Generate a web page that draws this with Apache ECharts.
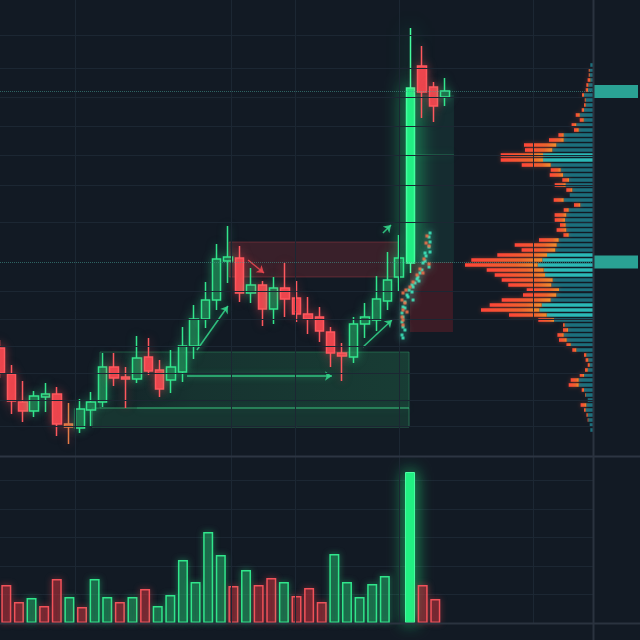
<!DOCTYPE html>
<html>
<head>
<meta charset="utf-8">
<script src="https://cdn.jsdelivr.net/npm/echarts@6/dist/echarts.min.js"></script>
<style>
  html, body { margin: 0; padding: 0; background: #121a24; }
  #chart { width: 640px; height: 640px; }
</style>
</head>
<body>
<div id="chart"></div>
<script>
// ---- candles (price units) ----
const candleOpen  = [33.0, 26.5, 19.5, 17.25, 20.75, 21.5, 14.0, 13.0, 17.5, 19.5, 28.25, 25.75, 25.25, 30.75, 27.5, 25.0, 27.0, 33.5, 40.25, 45.0, 54.75, 55.5, 46.75, 48.75, 42.75, 48.0, 45.5, 41.5, 40.75, 37.0, 31.75, 30.75, 39.0, 40.0, 44.75, 50.75, 54.25, 103.5, 98.25, 95.75];
const candleClose = [26.75, 19.75, 17.25, 21.0, 21.5, 14.0, 13.25, 17.75, 19.5, 28.25, 25.5, 25.25, 30.5, 27.25, 22.75, 28.25, 33.5, 40.25, 45.0, 55.25, 55.75, 46.75, 48.75, 42.75, 48.0, 45.25, 41.5, 40.25, 37.25, 31.75, 31.0, 39.0, 40.75, 45.25, 50.0, 55.5, 98.0, 97.0, 93.5, 97.25];
const candleLow   = [25.5, 16.5, 14.5, 15.75, 17.0, 11.0, 9.0, 11.75, 13.25, 18.25, 23.5, 18.0, 24.25, 26.25, 20.75, 21.75, 24.5, 30.25, 38.0, 42.5, 49.25, 44.5, 44.25, 38.5, 39.0, 40.75, 39.5, 36.5, 34.5, 28.25, 24.75, 29.25, 35.5, 37.25, 42.5, 47.0, 51.75, 90.5, 89.5, 93.5];
const candleHigh  = [35.0, 28.75, 24.75, 22.25, 24.25, 23.25, 19.25, 20.25, 22.0, 31.75, 31.75, 28.25, 36.0, 35.5, 30.0, 32.5, 38.25, 43.75, 49.5, 59.0, 63.5, 58.5, 53.0, 49.75, 50.75, 54.25, 49.75, 45.75, 43.25, 38.25, 34.25, 40.75, 44.25, 51.0, 57.0, 61.25, 113.0, 108.5, 99.5, 100.5];

// ---- volume ----
const volumes    = [38, 21, 25, 17, 44, 26, 16, 44, 26, 21, 26, 34, 17, 28, 63, 41, 91, 68, 37, 53, 38, 45, 41, 27, 35, 21, 69, 41, 26, 39, 47, '-', 151, 38, 24];
const volumeSide = ['d','d','u','d','d','u','d','u','u','d','u','d','u','u','u','u','u','u','d','u','d','d','u','d','d','d','u','u','u','u','u','-','u','d','d'];

// ---- volume profile (top row first) ----
const buyVol  = [2.7,3.3,3.3,2.7,4.7,5,9,7.3,7.3,9, 13.3,9.3,16.7,14.3,29.3,29.3,36.7,40.7,50,50, 42.3,32.3,30,24,27.3,20.7,23.3,29.3,12.7,24.3, 26.7,28,27.3,26.7,24.3,34.3,36.3,37.7,46,50.7, 55.3,49.3,48,40.3,41.7,34,36.7,42.3,51.3,53.7, 46.3,39,28.3,25,29.3,26.3,22.3,16.7,6.7,4.7, 3.3,5.3,9,14.3,14.3,9,7.3,5.3,6.7,7.3, 5.3,4.7,3.3,2.7];
const sellVol = [0,1,1,2.7,2,2.3,2,1,1.7,2.3, 4,4,4.7,4.7,5.3,14.7,32.3,27.3,42.3,42.3, 29,10,13.3,6.7,11,6,0,10,6.3,5, 11.7,10.3,5.7,9.7,5.3,19.7,42,33.7,49.7,71, 72.7,57,50.3,51,43,32.3,33.3,49,52,58.3, 37.7,15.7,1.7,5,6.3,7.7,4.3,4,2.3,2.7, 2,2.7,4.3,8,10,2.3,0.7,0,5.7,1.7, 1.3,0.7,0,0];

// ---- levels / zones / annotations (time slot, price) ----
const priceLevels = [111.25, 103, 95.75, 88.5, 81.25, 73.75, 64.5, 47.25, 40.25, 33.5, 26.75, 20, 13.5];
const timeLevels = [6.58, 20.26, 25.87, 34.99, 46.74];
const tagLevels = [97.1, 54.5];

const demandZone = [[8.77, 32], [35.87, 18]];
const demandBase = [[8.07, 18], [35.87, 13.25]];
const supplyZone = [[20.08, 59.5], [34.99, 50.75]];
const gapZoneRed = [[35.95, 54.5], [39.72, 37]];
const gapZoneTeal = [[36.13, 96.25], [39.81, 54.25]];

const arrowsUp = [
  [[17.27, 32.5], [19.99, 43.5]],
  [[31.83, 33.25], [34.37, 40.0]],
  [[33.58, 61.75], [34.29, 63.75]],
  [[16.4, 26.0], [29.11, 26.0]]
];
const arrowsDown = [
  [[21.75, 55.0], [23.15, 51.75]]
];
const guideLines = [
  [[12.01, 18.0], [35.87, 18.0]],
  [[36.13, 81.25], [39.81, 81.25]]
];

const dotsTeal = [[37.71,61.75],[37.62,60.75],[37.71,59.5],[37.62,58.25],[37.71,57.0],[37.27,56.75],[37.36,56.0],[37.27,54.75],[37.09,54.25],[37.62,53.25],[37.0,52.5],[36.83,51.75],[36.65,50.75],[36.57,50.25],[36.74,49.75],[36.39,49.25],[36.13,48.75],[36.22,48.25],[35.87,47.5],[36.13,47.0],[35.69,46.25],[35.78,45.75],[36.22,45.0],[35.51,44.5],[35.34,43.25],[35.51,43.0],[35.25,41.75],[35.34,40.75],[35.25,39.5],[35.34,38.25],[35.51,37.5],[35.25,36.25],[35.34,35.5]];
const dotsOrange = [[37.44,61.0],[37.36,59.25],[37.62,58.5],[37.18,55.25],[37.62,54.0],[36.83,52.75],[37.09,51.75],[36.57,51.25],[36.22,49.5],[35.95,48.25],[35.6,47.5],[35.34,46.75],[35.25,45.0],[35.51,44.25],[35.34,42.5],[35.69,42.0],[35.25,40.75],[35.34,40.0],[35.34,38.75]];

const slots = Array.from({ length: 53 }, (_, i) => String(i));
const volSlots = Array.from({ length: 47 }, (_, i) => String(i));
const rows = buyVol.map((_, i) => String(i));

const GRID_LINE = '#1c2733';

const candleData = candleOpen.map((o, i) => {
  const c = candleClose[i];
  const up = c >= o;
  const st = { shadowBlur: 8, shadowColor: up ? 'rgba(46,230,140,0.5)' : 'rgba(240,70,80,0.5)' };
  if (Math.abs(c - o) > 20) {
    Object.assign(st, { color: '#22ef84', borderColor: '#45ff9f', shadowBlur: 20, shadowColor: 'rgba(34,240,130,0.85)' });
  }
  if (i === 6) Object.assign(st, { color0: '#d0643a', borderColor0: '#e67c48' });
  return { value: [o, c, candleLow[i], candleHigh[i]], itemStyle: st };
});

const volData = volumes.map((v, i) => {
  if (v === '-') return '-';
  if (v > 120) {
    return { value: v, itemStyle: { color: '#22f083', borderColor: '#4dffa4', borderWidth: 1, shadowBlur: 16, shadowColor: 'rgba(34,240,130,0.8)' } };
  }
  const up = volumeSide[i] === 'u';
  return {
    value: v,
    itemStyle: up
      ? { color: 'rgba(32,140,86,0.45)', borderColor: '#31e68b', borderWidth: 1.5, shadowBlur: 6, shadowColor: 'rgba(46,230,140,0.5)' }
      : { color: 'rgba(150,40,50,0.5)', borderColor: '#f2525a', borderWidth: 1.5, shadowBlur: 6, shadowColor: 'rgba(240,70,80,0.5)' }
  };
});

const buyData = buyVol.map(v => ({
  value: v,
  itemStyle: { color: v > 45 ? '#2bb9b6' : '#1c6f7c' }
}));

const sellGradient = new echarts.graphic.LinearGradient(0, 0, 1, 0, [
  { offset: 0, color: '#ff4538' },
  { offset: 0.7, color: '#ee652d' },
  { offset: 1, color: '#f0902e' }
]);

function zone(pair, style) {
  return [
    { xAxis: pair[0][0], yAxis: pair[0][1], itemStyle: style },
    { xAxis: pair[1][0], yAxis: pair[1][1] }
  ];
}

const chart = echarts.init(document.getElementById('chart'));

const option = {
  backgroundColor: '#121a24',
  animation: false,
  grid: [
    { left: 0, top: 0, width: 593, height: 456 },
    { left: 0, top: 456, width: 593, height: 167 },
    { left: 460, top: 62.5, width: 133, height: 370 },
    { left: 0, top: 0, width: 593, height: 623 }
  ],
  xAxis: [
    { type: 'category', gridIndex: 0, data: slots, boundaryGap: false, show: false },
    { type: 'value', gridIndex: 0, min: 0, max: 52, show: false },
    { type: 'category', gridIndex: 1, data: volSlots, show: false },
    { type: 'value', gridIndex: 2, min: 0, max: 133, inverse: true, show: false },
    { type: 'value', gridIndex: 3, min: 0, max: 52, show: false }
  ],
  yAxis: [
    { type: 'value', gridIndex: 0, min: 6, max: 120, show: false },
    {
      type: 'value', gridIndex: 1, min: 0, max: 167, interval: 28.5,
      axisLabel: { show: false }, axisTick: { show: false }, axisLine: { show: false },
      splitLine: { lineStyle: { color: GRID_LINE } }
    },
    { type: 'category', gridIndex: 2, data: rows, inverse: true, show: false },
    { type: 'value', gridIndex: 3, min: 0, max: 1, show: false }
  ],
  series: [
    {
      name: 'timeGrid', type: 'line', xAxisIndex: 4, yAxisIndex: 3,
      data: [[0, 0]], showSymbol: false, silent: true, z: 0,
      markLine: {
        silent: true, symbol: 'none', animation: false,
        label: { show: false },
        lineStyle: { color: GRID_LINE, width: 1, type: 'solid' },
        data: timeLevels.map(v => ({ xAxis: v }))
      }
    },
    {
      name: 'priceGrid', type: 'line', xAxisIndex: 1, yAxisIndex: 0,
      data: [[0, 6]], showSymbol: false, silent: true, z: 0,
      markLine: {
        silent: true, symbol: 'none', animation: false,
        label: { show: false },
        lineStyle: { color: GRID_LINE, width: 1, type: 'solid' },
        data: priceLevels.map(v => ({ yAxis: v }))
      }
    },
    {
      name: 'zones', type: 'line', xAxisIndex: 1, yAxisIndex: 0,
      data: [[0, 6]], showSymbol: false, silent: true, z: 1,
      markArea: {
        silent: true, animation: false,
        data: [
          zone(demandZone, {
            color: new echarts.graphic.LinearGradient(0, 0, 1, 0, [
              { offset: 0, color: 'rgba(40,150,95,0.06)' },
              { offset: 0.3, color: 'rgba(40,150,95,0.2)' },
              { offset: 1, color: 'rgba(40,150,95,0.28)' }
            ]),
            borderColor: 'rgba(60,190,120,0.35)', borderWidth: 1
          }),
          zone(demandBase, { color: 'rgba(40,150,95,0.22)', borderColor: 'rgba(70,200,130,0.45)', borderWidth: 1 }),
          zone(supplyZone, { color: 'rgba(150,45,55,0.3)', borderColor: 'rgba(200,70,80,0.35)', borderWidth: 1 }),
          zone(gapZoneRed, { color: 'rgba(110,32,42,0.45)' }),
          zone(gapZoneTeal, { color: 'rgba(30,110,90,0.22)' })
        ]
      }
    },
    {
      name: 'levels', type: 'line', xAxisIndex: 1, yAxisIndex: 0,
      data: [[0, 6]], showSymbol: false, silent: true, z: 2,
      markLine: {
        silent: true, symbol: 'none', animation: false,
        lineStyle: { color: 'rgba(70,160,150,0.55)', width: 1, type: 'dotted' },
        label: {
          show: true, position: 'end', distance: 1, padding: 0,
          formatter: '{a| }',
          rich: { a: { width: 44, height: 13, backgroundColor: '#2aa294' } }
        },
        data: tagLevels.map(v => ({ yAxis: v }))
      }
    },
    {
      name: 'price', type: 'candlestick', xAxisIndex: 0, yAxisIndex: 0,
      barWidth: 9, z: 3,
      itemStyle: {
        color: 'rgba(30,125,78,0.65)', color0: '#ec464e',
        borderColor: '#33e58c', borderColor0: '#ff585e', borderWidth: 1.5
      },
      data: candleData
    },
    {
      name: 'guides', type: 'lines', coordinateSystem: 'cartesian2d', xAxisIndex: 1, yAxisIndex: 0,
      symbol: 'none', silent: true, z: 2,
      lineStyle: { color: 'rgba(60,200,130,0.6)', width: 1.5, shadowBlur: 8, shadowColor: 'rgba(60,220,140,0.7)' },
      data: guideLines.map(c => ({ coords: c }))
    },
    {
      name: 'arrowsUp', type: 'lines', coordinateSystem: 'cartesian2d', xAxisIndex: 1, yAxisIndex: 0,
      symbol: ['none', 'arrow'], symbolSize: 7, silent: true, z: 4,
      lineStyle: { color: '#34d88c', width: 1.5, opacity: 0.85, shadowBlur: 6, shadowColor: 'rgba(52,216,140,0.7)' },
      data: arrowsUp.map(c => ({ coords: c }))
    },
    {
      name: 'arrowsDown', type: 'lines', coordinateSystem: 'cartesian2d', xAxisIndex: 1, yAxisIndex: 0,
      symbol: ['none', 'arrow'], symbolSize: 7, silent: true, z: 4,
      lineStyle: { color: '#e8464e', width: 1.5, opacity: 0.9, shadowBlur: 6, shadowColor: 'rgba(232,70,78,0.7)' },
      data: arrowsDown.map(c => ({ coords: c }))
    },
    {
      name: 'flowBuy', type: 'scatter', xAxisIndex: 1, yAxisIndex: 0,
      symbol: 'rect', symbolSize: 3, z: 5, silent: true,
      itemStyle: { color: '#3ff2c6', shadowBlur: 6, shadowColor: 'rgba(63,242,198,0.9)' },
      data: dotsTeal
    },
    {
      name: 'flowSell', type: 'scatter', xAxisIndex: 1, yAxisIndex: 0,
      symbol: 'rect', symbolSize: 3, z: 5, silent: true,
      itemStyle: { color: '#f2704a', shadowBlur: 3, shadowColor: 'rgba(242,112,74,0.6)' },
      data: dotsOrange
    },
    {
      name: 'volume', type: 'bar', xAxisIndex: 2, yAxisIndex: 1,
      barWidth: 10, z: 3,
      data: volData
    },
    {
      name: 'profileBuy', type: 'bar', xAxisIndex: 3, yAxisIndex: 2,
      stack: 'vp', barWidth: 3.6, z: 3,
      data: buyData
    },
    {
      name: 'profileSell', type: 'bar', xAxisIndex: 3, yAxisIndex: 2,
      stack: 'vp', barWidth: 3.6, z: 3,
      itemStyle: { color: sellGradient, shadowBlur: 4, shadowColor: 'rgba(255,80,50,0.4)' },
      data: sellVol
    }
  ],
  graphic: [
    { type: 'line', silent: true, z: 10, shape: { x1: 0, y1: 456.5, x2: 640, y2: 456.5 }, style: { stroke: '#2c3542', lineWidth: 2 } },
    { type: 'line', silent: true, z: 10, shape: { x1: 0, y1: 623.5, x2: 640, y2: 623.5 }, style: { stroke: '#2a333f', lineWidth: 2 } },
    { type: 'line', silent: true, z: 10, shape: { x1: 593.5, y1: 0, x2: 593.5, y2: 640 }, style: { stroke: '#2a333f', lineWidth: 2 } }
  ]
};

chart.setOption(option);
</script>
</body>
</html>
